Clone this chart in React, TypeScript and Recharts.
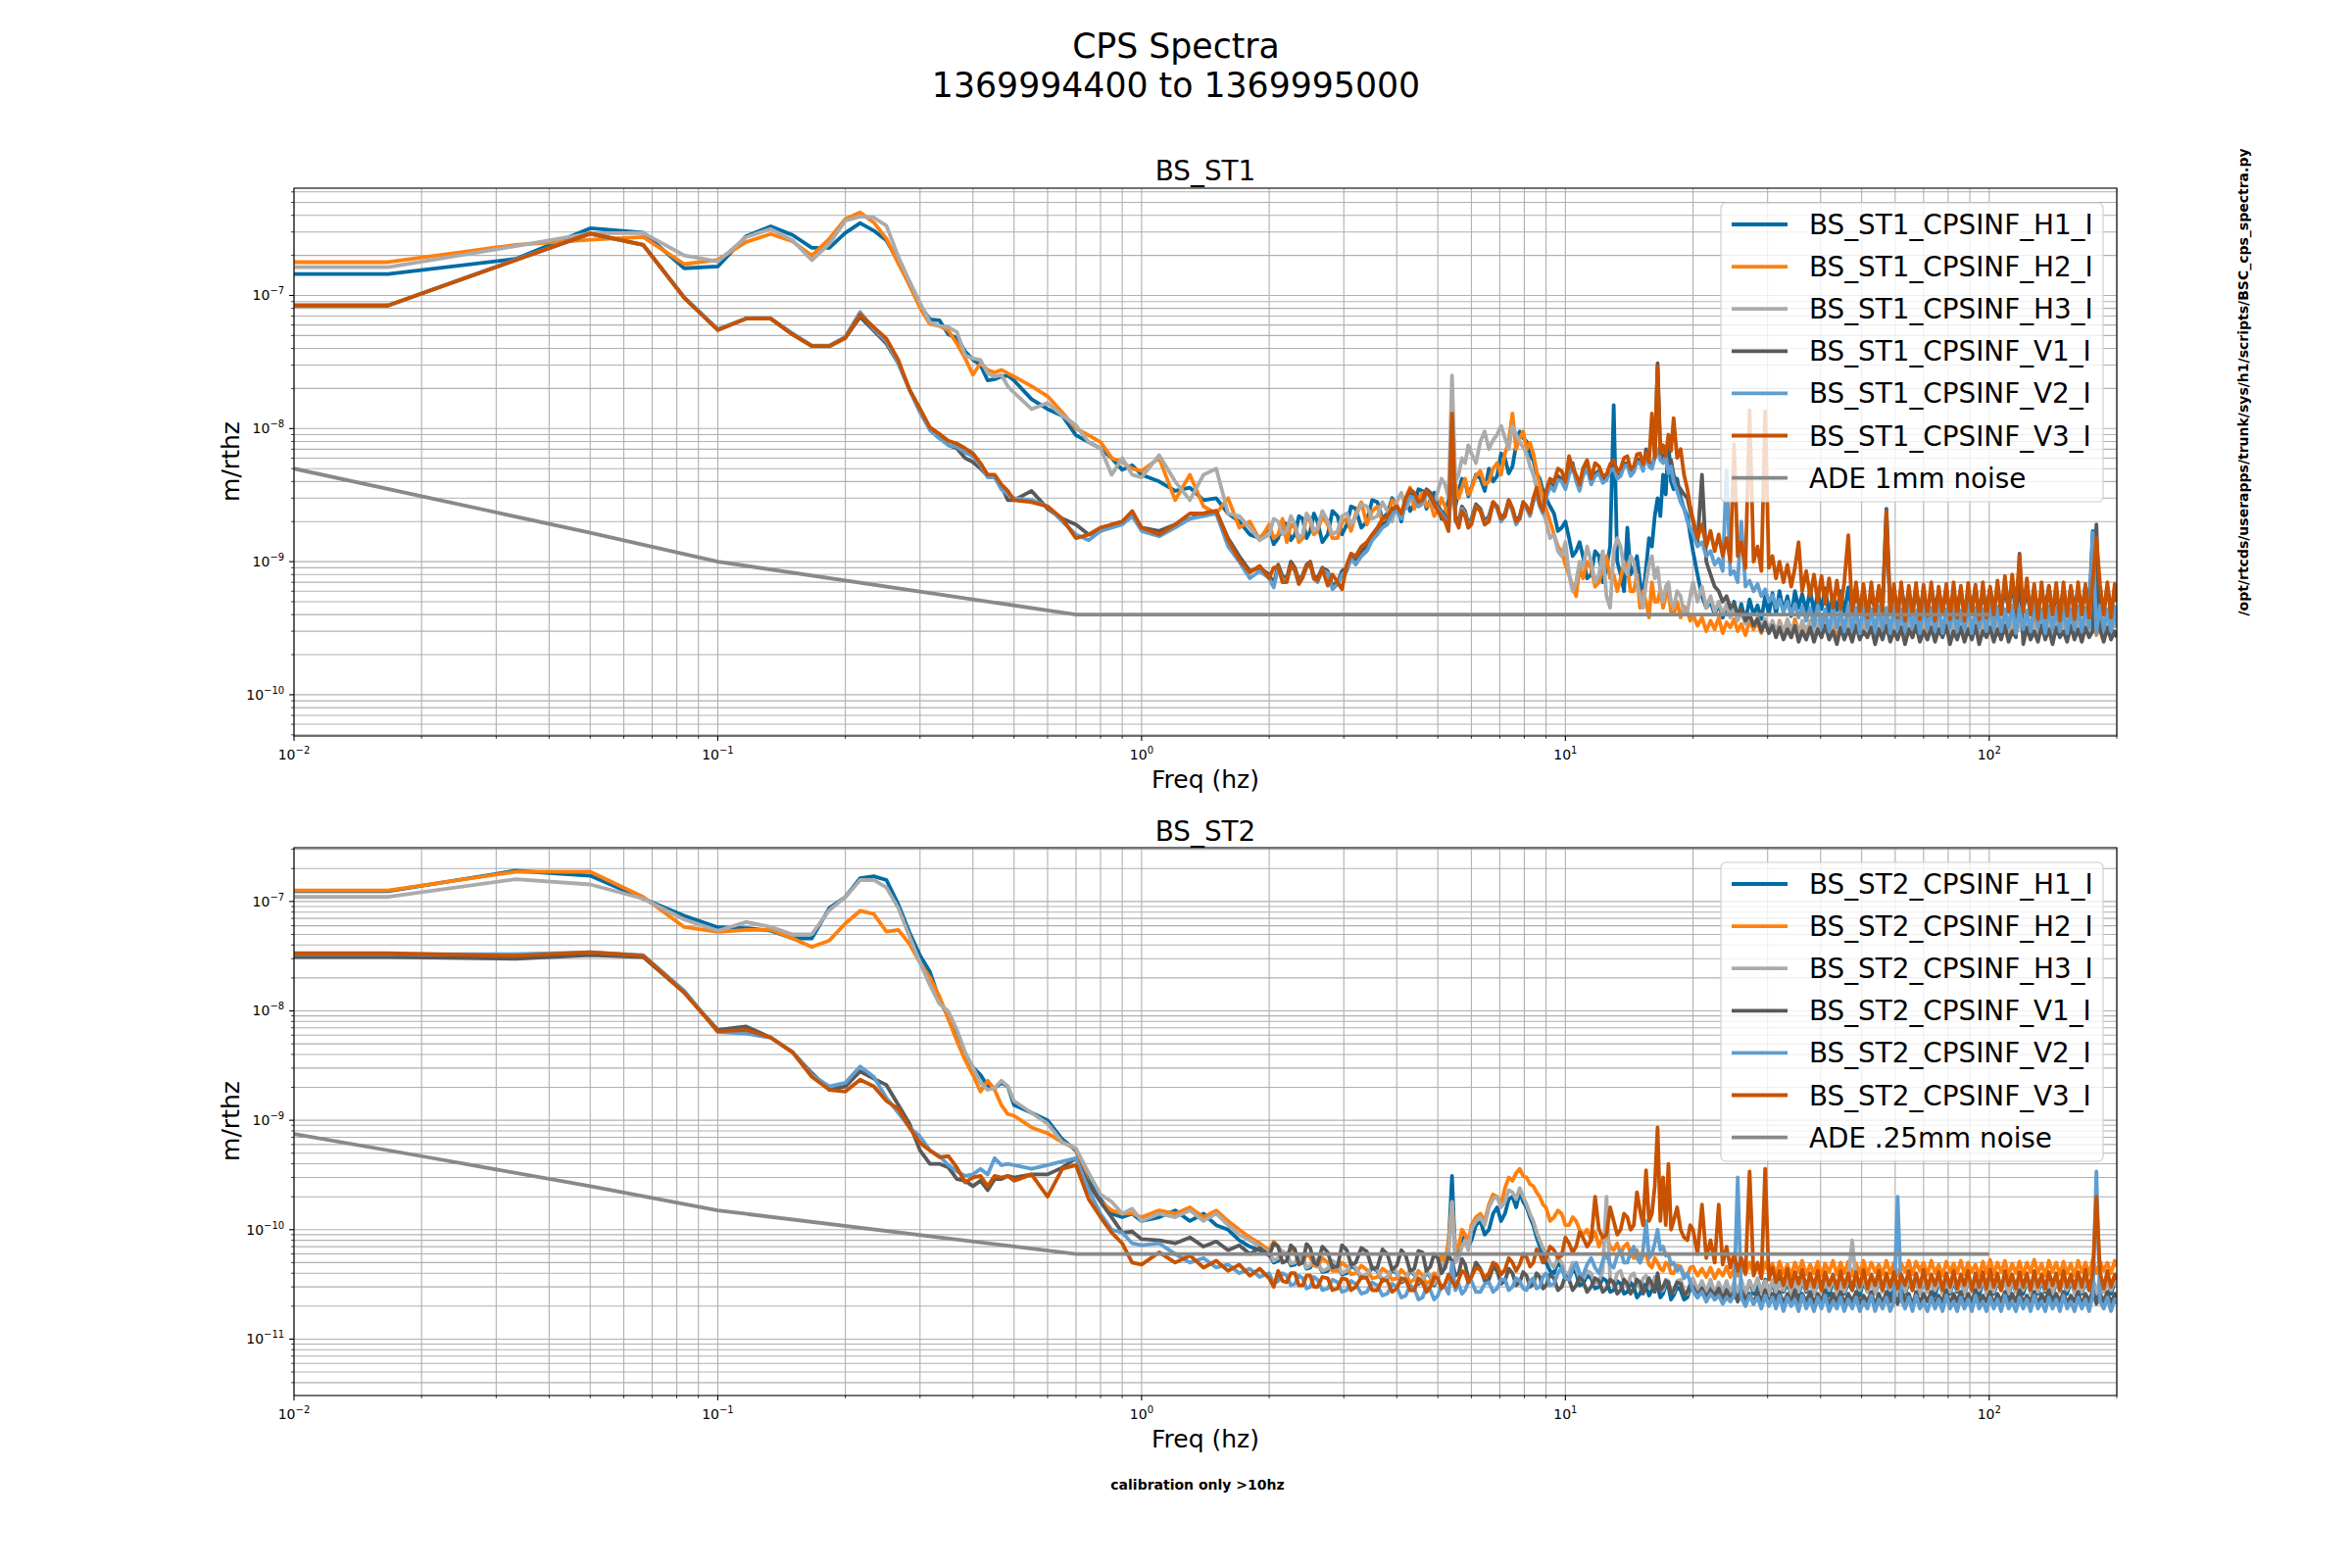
import React from 'react';
import { LineChart, Line, XAxis, YAxis, CartesianGrid } from 'recharts';

// frequency grid in Hz (shared by both stages)
const FREQ = [
  0.01, 0.01667, 0.03333, 0.05, 0.06667, 0.08333, 0.1, 0.11667, 0.13333, 0.15,
  0.16667, 0.18333, 0.2, 0.21667, 0.23333, 0.25, 0.26667, 0.28333, 0.3, 0.31667,
  0.33333, 0.35, 0.36667, 0.38333, 0.4, 0.41667, 0.43333, 0.45, 0.46667, 0.48333,
  0.5, 0.55, 0.6, 0.65, 0.7, 0.75, 0.8, 0.85, 0.9, 0.95,
  1.0, 1.1, 1.2, 1.3, 1.4, 1.5, 1.6, 1.7, 1.8, 1.9,
  2.0, 2.05, 2.1, 2.15, 2.2, 2.25, 2.3, 2.35, 2.4, 2.45,
  2.5, 2.55, 2.6, 2.67, 2.75, 2.82, 2.9, 2.97, 3.05, 3.12,
  3.2, 3.3, 3.4, 3.5, 3.6, 3.7, 3.8, 3.9, 4.0, 4.1,
  4.2, 4.3, 4.4, 4.5, 4.6, 4.7, 4.8, 4.9, 5.0, 5.1,
  5.2, 5.3, 5.4, 5.5, 5.6, 5.7, 5.8, 5.9, 6.0, 6.15,
  6.3, 6.45, 6.6, 6.75, 6.9, 7.05, 7.2, 7.35, 7.5, 7.65,
  7.8, 7.95, 8.1, 8.25, 8.4, 8.55, 8.7, 8.85, 9.0, 9.2,
  9.4, 9.6, 9.8, 10.0, 10.2, 10.4, 10.6, 10.8, 11.0, 11.25,
  11.5, 11.75, 12, 12.25, 12.5, 12.75, 13, 13.25, 13.5, 13.75,
  14, 14.25, 14.5, 14.75, 15, 15.25, 15.5, 15.75, 16, 16.25,
  16.5, 16.75, 17, 17.25, 17.5, 17.75, 18, 18.35, 18.7, 19.05,
  19.4, 19.7,
  20, 20.5, 21, 21.5, 22, 22.5, 23, 23.5, 24, 24.5,
  25, 25.5, 26, 26.6, 27.2, 27.8, 28.4, 29, 29.6, 30.2,
  30.8, 31.4, 32, 32.7, 33.4, 34.1, 34.8, 35.5, 36.2, 37,
  37.8, 38.6, 39.4, 40.2, 41, 41.9, 42.8, 43.7, 44.6, 45.5,
  46.5, 47.5, 48.5, 49.5, 50.5, 51.6, 52.7, 53.8, 54.9, 56,
  57.2, 58.4, 59.6, 60.8, 62, 63.3, 64.6, 65.9, 67.2, 68.6,
  70, 71.5, 73, 74.5, 76, 77.6, 79.2, 80.8, 82.4, 84,
  85.7, 87.4, 89.2, 91, 92.8, 94.7, 96.6, 98.5, 100.5, 102.5,
  104.6, 106.7, 108.9, 111.1, 113.3, 115.6, 117.9, 120.3, 122.7, 125.2,
  127.7, 130.3, 132.9, 135.6, 138.3, 141.1, 143.9, 146.8, 149.7, 152.7,
  155.8, 158.9, 162.1, 165.4, 168.7, 172.1, 175.5, 179, 182.6, 186.3,
  190, 193.8, 197.7, 200,
];

// BS_ST1 spectra, nm/rtHz
const st1H1 = [
  145, 145, 188, 320, 297, 160, 165, 279, 331, 285,
  228, 228, 295, 350, 307, 259, 179, 120, 83, 66,
  65, 51, 48, 38, 33, 30, 23, 23.5, 24.6, 25,
  23, 16.6, 14, 12.5, 8.9, 7.9, 7.1, 6.0, 4.9, 5.3,
  4.5, 4.0, 3.4, 3.6, 2.9, 3.0, 2.3, 2.0, 1.6, 1.5,
  1.8, 1.35, 1.5, 2.0, 1.9, 1.45, 1.6, 2.2, 2.1, 1.5,
  1.7, 2.3, 2.0, 1.4, 1.6, 2.4, 2.2, 1.6, 1.9, 2.6,
  2.5, 1.8, 2.0, 2.9, 2.8, 2.1, 2.3, 3.0, 2.6, 2.0,
  3.0, 2.4, 2.7, 3.5, 3.4, 2.5, 2.9, 3.3, 2.6, 2.1,
  2.3, 2.9, 3.5, 2.6, 3.4, 4.2, 4.0, 3.1, 3.6, 4.5,
  4.2, 3.4, 5.0, 4.0, 4.4, 6.5, 6.0, 4.6, 5.2, 7.5,
  9.5, 8.5, 8.0, 6.2, 5.8, 4.6, 4.2, 3.4, 3.0, 2.6,
  2.3, 1.7, 1.8, 2.0, 1.5, 1.1, 1.2, 1.4, 1.1, 0.75,
  0.8, 1.2, 1.1, 0.7, 0.9, 1.3, 15, 1.0, 0.8, 0.6,
  1.8, 0.8, 0.9, 1.1, 0.7, 0.55, 0.9, 1.5, 1.3, 2.2,
  3.0, 2.2, 4.5, 3.2, 8.0, 4.0, 3.5, 4.2, 3.0, 2.5,
  2.2, 1.6,
  1.2, 0.8, 0.55, 0.45, 0.5, 0.4, 0.48, 0.38, 0.45, 0.4,
  0.5, 0.38, 0.48, 0.36, 0.52, 0.4, 0.47, 0.37, 0.55, 0.4,
  0.58, 0.4, 0.6, 0.42, 0.55, 0.39, 0.6, 0.45, 0.57, 0.42,
  0.62, 0.41, 0.58, 0.44, 0.63, 0.4, 0.56, 0.43, 0.6, 0.41,
  0.64, 0.42, 0.59, 0.45, 0.62, 0.4, 0.57, 0.44, 0.63, 0.42,
  2.5, 0.43, 0.6, 0.41, 0.64, 0.44, 0.58, 0.4, 0.62, 0.43,
  0.59, 0.41, 0.65, 0.44, 0.6, 0.42, 0.63, 0.4, 0.58, 0.45,
  0.62, 0.41, 0.6, 0.43, 0.65, 0.4, 0.57, 0.44, 0.63, 0.42,
  0.66, 0.43, 0.62, 0.45, 0.68, 0.42, 0.64, 0.44, 0.6, 0.41,
  0.63, 0.42, 0.6, 0.44, 0.65, 0.4, 0.58, 0.43, 0.62, 0.41,
  0.64, 0.44, 0.6, 0.42, 0.66, 0.43, 1.7, 0.45, 0.62, 0.42,
  0.65, 0.43, 0.6, 0.55,
];
const st1H2 = [
  178, 178, 240, 262, 275, 172, 185, 252, 290, 255,
  199, 267, 375, 420, 354, 267, 174, 120, 81, 61,
  59, 54.5, 43.4, 33.7, 25.4, 30.9, 27.6, 26.4, 27.6, 26,
  24.6, 20.8, 17.5, 13.2, 10, 8.9, 7.9, 6.0, 5.6, 5.0,
  4.8, 6.0, 2.9, 4.5, 2.6, 2.3, 3.0, 1.8, 2.0, 1.45,
  1.9, 1.5, 1.6, 2.1, 1.4, 1.9, 1.8, 1.4, 1.5, 2.2,
  2.0, 1.6, 1.7, 2.2, 1.9, 1.5, 1.5, 2.0, 2.1, 1.7,
  2.3, 2.8, 1.9, 2.4, 2.6, 2.0, 2.1, 2.9, 2.7, 2.2,
  3.0, 3.6, 2.5, 2.9, 3.3, 2.6, 2.8, 2.2, 2.4, 3.0,
  2.6, 2.1, 3.2, 3.9, 3.0, 3.6, 4.2, 3.2, 3.5, 4.4,
  4.8, 3.8, 4.0, 5.0, 5.5, 4.5, 6.5, 8.0, 13, 7.0,
  8.5, 9.5, 7.0, 7.8, 6.5, 4.8, 3.8, 3.0, 2.5, 2.0,
  1.6, 1.3, 1.2, 0.95, 0.8, 0.65, 0.55, 0.9, 0.75, 1.0,
  0.9, 0.65, 0.7, 0.9, 1.1, 0.75, 0.8, 0.6, 0.75, 1.0,
  0.9, 0.6, 0.6, 0.8, 0.45, 0.6, 0.5, 0.38, 0.7, 0.5,
  0.5, 0.62, 0.45, 0.55, 0.6, 0.42, 0.4, 0.5, 0.38, 0.46,
  0.42, 0.36,
  0.4, 0.33, 0.38, 0.3, 0.36, 0.31, 0.38, 0.29, 0.35, 0.32,
  0.37, 0.3, 0.34, 0.28, 0.36, 0.31, 0.35, 0.29, 0.37, 0.3,
  0.34, 0.28, 0.36, 0.3, 0.35, 0.27, 0.37, 0.3, 0.33, 0.29,
  0.36, 0.28, 0.35, 0.3, 0.37, 0.29, 0.34, 0.27, 0.36, 0.3,
  0.35, 0.29, 0.37, 0.28, 0.34, 0.3, 0.36, 0.28, 0.35, 0.29,
  0.37, 0.3, 0.34, 0.28, 0.36, 0.29, 0.35, 0.27, 0.37, 0.3,
  0.34, 0.28, 0.36, 0.3, 0.35, 0.28, 0.37, 0.29, 0.34, 0.3,
  0.36, 0.27, 0.35, 0.29, 0.37, 0.3, 0.34, 0.28, 0.36, 0.29,
  0.35, 0.3, 0.37, 0.28, 0.34, 0.29, 0.36, 0.3, 0.35, 0.28,
  0.37, 0.29, 0.34, 0.3, 0.36, 0.28, 0.35, 0.29, 0.37, 0.3,
  0.34, 0.28, 0.36, 0.29, 0.35, 0.3, 0.37, 0.28, 0.34, 0.29,
  0.36, 0.3, 0.35, 0.32,
];
const st1H3 = [
  163, 163, 235, 293, 295, 200, 180, 274, 316, 260,
  184, 245, 364, 392, 385, 334, 195, 128, 88, 63,
  59, 57.7, 53, 35.6, 33.7, 32.7, 26, 24.6, 25.3, 20.8,
  18.6, 14, 15.6, 12.5, 10.6, 7.9, 7.1, 4.5, 6.0, 4.5,
  4.3, 6.3, 4.0, 2.9, 4.5, 5.0, 2.3, 2.2, 1.8, 1.45,
  1.6, 2.1, 2.0, 1.6, 1.7, 2.2, 1.9, 1.5, 1.6, 2.3,
  2.1, 1.7, 1.8, 2.4, 2.0, 1.6, 1.7, 2.2, 2.3, 1.9,
  2.2, 2.7, 2.6, 2.1, 2.2, 2.8, 2.4, 2.0, 2.8, 3.3,
  2.5, 2.9, 3.2, 2.6, 2.7, 3.4, 3.0, 2.6, 3.4, 4.2,
  3.8, 3.0, 25, 4.0, 4.5, 6.0, 5.5, 7.5, 6.5, 5.5,
  8.0, 9.5, 7.0, 8.2, 9.0, 10.5, 8.5, 7.0, 10.5, 9.0,
  8.0, 7.2, 6.5, 5.2, 4.5, 3.6, 3.0, 2.4, 2.0, 1.5,
  1.6, 1.2, 1.1, 1.4, 0.8, 0.6, 0.7, 1.0, 0.9, 1.3,
  1.0, 0.7, 0.8, 1.2, 0.55, 0.45, 1.2, 1.5, 1.3, 0.9,
  0.8, 1.1, 1.0, 0.7, 0.55, 0.45, 0.7, 0.95, 1.1, 0.75,
  0.9, 0.6, 0.5, 0.65, 0.7, 0.5, 0.45, 0.6, 0.55, 0.4,
  0.42, 0.55,
  0.7, 0.5, 0.65, 0.45, 0.55, 0.42, 0.5, 0.4, 0.48, 0.38,
  0.45, 0.36, 0.42, 0.34, 0.4, 0.33, 0.38, 0.32, 0.37, 0.31,
  0.36, 0.3, 0.35, 0.29, 0.37, 0.31, 0.34, 0.28, 0.36, 0.3,
  0.35, 0.29, 0.36, 0.3, 0.34, 0.28, 0.37, 0.31, 0.35, 0.29,
  0.36, 0.3, 0.34, 0.28, 0.37, 0.3, 0.35, 0.29, 0.36, 0.31,
  0.34, 0.28, 0.36, 0.3, 0.35, 0.29, 0.37, 0.3, 0.34, 0.28,
  0.36, 0.31, 0.35, 0.29, 0.37, 0.3, 0.34, 0.28, 0.36, 0.3,
  0.35, 0.29, 0.37, 0.31, 0.34, 0.28, 0.36, 0.3, 0.35, 0.29,
  0.37, 0.3, 0.34, 0.29, 0.36, 0.31, 0.35, 0.28, 0.37, 0.3,
  0.34, 0.29, 0.36, 0.3, 0.35, 0.28, 0.37, 0.31, 0.34, 0.29,
  0.36, 0.3, 0.35, 0.29, 0.37, 0.28, 0.34, 0.3, 0.36, 0.29,
  0.35, 0.3, 0.36, 0.32,
];
const st1V1 = [
  84, 84, 185, 290, 240, 96, 55, 67, 67, 51,
  41.6, 41.6, 48, 69, 54.5, 43.4, 30.9, 19.6, 14, 10,
  8.8, 7.5, 7.1, 6.0, 5.6, 5.0, 4.4, 4.4, 3.7, 2.9,
  2.9, 3.4, 2.5, 2.1, 1.9, 1.6, 1.7, 1.9, 2.0, 2.2,
  1.8, 1.7, 1.9, 2.1, 2.3, 2.4, 1.5, 1.1, 0.85, 0.9,
  0.8, 0.68, 0.95, 0.78, 0.75, 1.0, 0.9, 0.72, 0.8, 0.95,
  1.0, 0.78, 0.75, 0.9, 0.85, 0.66, 0.7, 0.85, 0.9, 1.1,
  1.0, 1.2, 1.3, 1.5, 1.7, 1.9, 2.0, 2.4, 2.5, 2.2,
  2.8, 3.3, 3.2, 2.7, 2.9, 3.5, 3.3, 2.8, 2.6, 2.4,
  2.2, 1.8, 6.0, 2.2, 2.0, 2.6, 2.4, 1.9, 2.1, 2.7,
  2.5, 2.0, 2.2, 2.8, 2.6, 2.1, 2.3, 2.9, 2.5, 2.0,
  2.2, 2.8, 2.6, 2.3, 2.9, 3.3, 2.7, 2.4, 3.2, 3.9,
  3.6, 4.4, 4.2, 3.7, 4.8, 5.5, 4.2, 3.6, 4.6, 5.3,
  4.0, 4.6, 4.8, 4.1, 4.3, 5.0, 5.2, 4.4, 4.6, 5.4,
  5.5, 4.6, 4.9, 5.9, 5.8, 5.0, 7.0, 5.5, 5.2, 6.2,
  31, 6.5, 6.0, 7.0, 5.0, 5.8, 4.5, 3.8, 3.5, 3.2,
  3.0, 2.4,
  2.0, 1.4, 4.5, 1.0, 0.8, 0.65, 0.6, 0.5, 0.55, 0.45,
  0.48, 0.4, 0.44, 0.36, 0.4, 0.33, 0.37, 0.3, 0.35, 0.29,
  0.33, 0.27, 0.32, 0.26, 0.31, 0.27, 0.33, 0.25, 0.3, 0.26,
  0.32, 0.25, 0.31, 0.27, 0.33, 0.26, 0.3, 0.24, 0.32, 0.26,
  0.31, 0.25, 0.33, 0.26, 0.3, 0.27, 0.32, 0.24, 0.31, 0.26,
  0.33, 0.25, 0.3, 0.26, 0.32, 0.24, 0.31, 0.27, 0.33, 0.25,
  0.3, 0.26, 0.32, 0.25, 0.31, 0.27, 0.33, 0.24, 0.3, 0.26,
  0.32, 0.25, 0.31, 0.26, 0.33, 0.24, 0.3, 0.27, 0.32, 0.25,
  0.31, 0.26, 0.33, 0.25, 0.3, 0.27, 1.15, 0.24, 0.32, 0.26,
  0.3, 0.25, 0.33, 0.26, 0.31, 0.24, 0.32, 0.27, 0.3, 0.25,
  0.33, 0.26, 0.31, 0.25, 0.32, 0.27, 0.3, 1.9, 0.31, 0.25,
  0.32, 0.26, 0.3, 0.27,
];
const st1V2 = [
  84, 84, 186, 292, 240, 97, 56, 67, 67, 52,
  42, 42, 49, 75, 56, 45, 31, 19.6, 13.2, 9.7,
  8.4, 7.5, 7.3, 6.6, 6.2, 5.3, 4.3, 4.3, 3.5, 3.2,
  3.0, 2.9, 2.6, 2.0, 1.6, 1.45, 1.7, 1.8, 1.9, 2.2,
  1.7, 1.55, 1.8, 2.1, 2.2, 2.3, 1.3, 1.0, 0.75, 0.85,
  0.75, 0.64, 0.9, 0.74, 0.72, 0.92, 0.85, 0.68, 0.78, 0.9,
  0.95, 0.74, 0.7, 0.86, 0.82, 0.62, 0.68, 0.8, 0.85, 1.05,
  0.95, 1.1, 1.2, 1.45, 1.6, 1.8, 1.9, 2.3, 2.4, 2.1,
  2.7, 3.1, 3.0, 2.6, 2.8, 3.3, 3.1, 2.7, 2.5, 2.3,
  2.1, 1.7, 12, 2.0, 1.9, 2.5, 2.3, 1.8, 2.0, 2.6,
  2.4, 1.9, 2.1, 2.7, 2.5, 2.0, 2.2, 2.8, 2.4, 1.9,
  2.1, 2.7, 2.5, 2.2, 2.8, 3.2, 2.6, 2.3, 3.0, 3.7,
  3.4, 4.1, 4.0, 3.5, 4.5, 5.2, 4.0, 3.4, 4.4, 5.0,
  3.8, 4.4, 4.6, 3.9, 4.1, 4.8, 5.0, 4.2, 4.4, 5.2,
  5.3, 4.4, 4.7, 5.6, 5.5, 4.8, 6.5, 5.2, 5.0, 6.0,
  7.0, 5.8, 5.5, 6.2, 4.6, 5.2, 4.0, 3.4, 2.8, 2.5,
  2.0, 1.8,
  1.6, 1.3, 1.4, 1.1, 1.2, 0.95, 1.05, 0.85, 4.9, 0.8,
  0.85, 0.7, 2.0, 0.65, 0.72, 0.6, 0.68, 0.55, 0.62, 0.5,
  0.56, 0.45, 0.52, 0.42, 0.5, 0.4, 0.48, 0.38, 0.46, 0.36,
  0.45, 0.33, 0.47, 0.32, 0.44, 0.3, 0.46, 0.32, 0.43, 0.3,
  0.47, 0.31, 0.45, 0.29, 0.48, 0.32, 0.44, 0.3, 0.46, 0.31,
  0.45, 0.29, 0.47, 0.31, 0.44, 0.3, 0.46, 0.32, 0.43, 0.29,
  0.47, 0.31, 0.45, 0.3, 0.48, 0.29, 0.44, 0.32, 0.46, 0.3,
  0.43, 0.31, 0.47, 0.29, 0.45, 0.32, 0.44, 0.3, 0.48, 0.31,
  0.46, 0.3, 0.44, 0.32, 0.47, 0.29, 0.45, 0.31, 0.43, 0.3,
  0.47, 0.32, 0.44, 0.29, 0.46, 0.31, 0.45, 0.3, 0.48, 0.29,
  0.44, 0.31, 0.46, 0.3, 0.45, 0.32, 1.65, 0.29, 0.47, 0.31,
  0.44, 0.3, 0.46, 0.33,
];
const st1V3 = [
  84, 84, 184, 293, 240, 96, 55, 67, 67, 51,
  41.6, 41.6, 48, 72, 57.7, 47.3, 32.7, 19.6, 14, 10.2,
  9.1, 8.1, 7.7, 7.1, 6.5, 5.5, 4.5, 4.5, 3.8, 3.4,
  2.9, 2.8, 2.6, 2.1, 1.5, 1.6, 1.8, 1.9, 2.0, 2.4,
  1.8, 1.6, 1.9, 2.3, 2.3, 2.4, 1.45, 1.03, 0.83, 0.93,
  0.75, 0.9, 0.92, 0.7, 0.7, 0.95, 0.88, 0.68, 0.76, 0.92,
  0.98, 0.75, 0.72, 0.88, 0.66, 0.8, 0.7, 0.62, 0.95, 1.15,
  1.1, 1.3, 1.4, 1.6, 1.8, 2.1, 2.2, 2.5, 2.6, 2.3,
  3.0, 3.5, 3.3, 2.8, 2.9, 3.4, 3.1, 2.7, 2.4, 2.2,
  2.0, 1.7, 13, 2.1, 1.8, 2.4, 2.2, 1.8, 1.9, 2.6,
  2.4, 1.9, 2.0, 2.8, 2.6, 2.1, 2.2, 2.9, 2.5, 2.0,
  2.1, 2.8, 2.6, 2.3, 3.0, 3.6, 2.7, 2.4, 3.4, 4.2,
  4.0, 5.0, 4.8, 4.0, 6.2, 5.0, 4.5, 3.8, 5.0, 5.8,
  4.2, 5.5, 5.2, 4.4, 4.5, 5.4, 5.8, 4.8, 5.0, 6.0,
  6.2, 5.0, 5.2, 6.4, 6.5, 5.4, 6.5, 5.6, 13, 6.0,
  29, 6.5, 7.5, 6.2, 9.0, 6.8, 12, 6.0, 7.0, 4.5,
  3.5, 2.6,
  2.1, 1.5, 1.9, 1.3, 1.7, 1.2, 1.6, 1.1, 1.5, 1.0,
  7.6, 1.1, 1.4, 0.9, 13.7, 1.0, 1.3, 0.85, 13.5, 0.9,
  1.1, 0.75, 1.0, 0.7, 0.95, 0.65, 0.9, 1.4, 0.6, 0.85,
  0.55, 0.8, 0.5, 0.78, 0.48, 0.75, 0.45, 0.72, 0.44, 0.7,
  1.58, 0.42, 0.7, 0.4, 0.68, 0.38, 0.7, 0.4, 0.66, 0.42,
  2.4, 0.4, 0.68, 0.38, 0.7, 0.36, 0.66, 0.4, 0.69, 0.37,
  0.67, 0.39, 0.7, 0.36, 0.65, 0.4, 0.68, 0.37, 0.7, 0.38,
  0.66, 0.36, 0.69, 0.4, 0.67, 0.37, 0.7, 0.38, 0.65, 0.4,
  0.72, 0.4, 0.78, 0.42, 0.8, 0.44, 1.1, 0.42, 0.75, 0.4,
  0.68, 0.37, 0.7, 0.38, 0.66, 0.4, 0.69, 0.36, 0.7, 0.39,
  0.66, 0.37, 0.7, 0.4, 0.68, 0.38, 0.72, 1.5, 0.67, 0.4,
  0.7, 0.38, 0.68, 0.5,
];

// BS_ST2 spectra, nm/rtHz
const st2H1 = [
  124, 124, 191, 172, 106, 74, 58, 57, 54, 46,
  46, 87, 110, 163, 170, 157, 94, 52, 32, 22.7,
  12.6, 8.8, 6.2, 3.9, 3.05, 2.6, 2.04, 1.97, 2.2, 2.04,
  1.38, 1.17, 1.0, 0.67, 0.53, 0.28, 0.19, 0.14, 0.13, 0.14,
  0.12, 0.13, 0.15, 0.12, 0.14, 0.11, 0.1, 0.08, 0.07, 0.065,
  0.06, 0.05, 0.052, 0.062, 0.058, 0.047, 0.048, 0.057, 0.055, 0.044,
  0.045, 0.054, 0.05, 0.041, 0.042, 0.05, 0.047, 0.039, 0.04, 0.047,
  0.044, 0.036, 0.038, 0.045, 0.042, 0.034, 0.036, 0.043, 0.04, 0.033,
  0.035, 0.042, 0.039, 0.032, 0.034, 0.041, 0.037, 0.031, 0.036, 0.05,
  0.045, 0.07, 0.31, 0.055, 0.06, 0.075, 0.09, 0.07, 0.08, 0.11,
  0.12, 0.09, 0.1, 0.14, 0.16, 0.12, 0.14, 0.19, 0.2, 0.16,
  0.22, 0.18, 0.16, 0.13, 0.11, 0.085, 0.07, 0.058, 0.05, 0.042,
  0.04, 0.05, 0.045, 0.036, 0.035, 0.043, 0.04, 0.031, 0.032, 0.038,
  0.036, 0.029, 0.03, 0.036, 0.034, 0.027, 0.028, 0.034, 0.032, 0.026,
  0.027, 0.033, 0.03, 0.024, 0.026, 0.032, 0.03, 0.025, 0.028, 0.033,
  0.03, 0.024, 0.026, 0.031, 0.03, 0.023, 0.025, 0.03, 0.028, 0.023,
  0.024, 0.029,
  0.028, 0.024, 0.03, 0.025, 0.029, 0.023, 0.031, 0.025, 0.03, 0.024,
  0.032, 0.026, 0.03, 0.025, 0.034, 0.026, 0.031, 0.027, 0.035, 0.026,
  0.033, 0.025, 0.036, 0.027, 0.032, 0.026, 0.035, 0.025, 0.034, 0.027,
  0.036, 0.026, 0.033, 0.028, 0.037, 0.025, 0.034, 0.027, 0.035, 0.026,
  0.033, 0.028, 0.036, 0.025, 0.034, 0.027, 0.037, 0.026, 0.033, 0.028,
  0.036, 0.025, 0.034, 0.027, 0.038, 0.026, 0.033, 0.028, 0.035, 0.026,
  0.034, 0.027, 0.037, 0.025, 0.033, 0.028, 0.036, 0.026, 0.034, 0.027,
  0.037, 0.026, 0.033, 0.028, 0.035, 0.025, 0.034, 0.027, 0.036, 0.026,
  0.033, 0.028, 0.036, 0.025, 0.034, 0.027, 0.037, 0.026, 0.033, 0.028,
  0.035, 0.026, 0.034, 0.027, 0.036, 0.025, 0.033, 0.028, 0.037, 0.026,
  0.034, 0.027, 0.035, 0.026, 0.033, 0.028, 0.036, 0.025, 0.034, 0.027,
  0.035, 0.026, 0.033, 0.03,
];
const st2H2 = [
  126, 126, 187, 187, 110, 58.4, 52.8, 55, 55, 46,
  38.4, 44, 63, 82, 77, 53, 55, 41, 27.6, 20,
  13.6, 8.4, 5.3, 3.55, 2.6, 1.83, 2.3, 1.9, 1.38, 1.14,
  1.1, 0.86, 0.76, 0.63, 0.55, 0.26, 0.18, 0.15, 0.14, 0.14,
  0.13, 0.15, 0.14, 0.16, 0.13, 0.15, 0.12, 0.1, 0.085, 0.075,
  0.065, 0.078, 0.07, 0.06, 0.058, 0.068, 0.062, 0.052, 0.05, 0.06,
  0.056, 0.047, 0.046, 0.055, 0.05, 0.042, 0.042, 0.05, 0.046, 0.039,
  0.04, 0.047, 0.043, 0.036, 0.037, 0.044, 0.041, 0.035, 0.036, 0.043,
  0.039, 0.033, 0.035, 0.042, 0.038, 0.032, 0.034, 0.04, 0.037, 0.06,
  0.05, 0.08, 0.18, 0.065, 0.07, 0.1, 0.09, 0.075, 0.11, 0.13,
  0.14, 0.12, 0.17, 0.21, 0.2, 0.17, 0.24, 0.3, 0.28, 0.33,
  0.36, 0.31, 0.3, 0.26, 0.25, 0.22, 0.2, 0.17, 0.16, 0.12,
  0.13, 0.15, 0.14, 0.11, 0.11, 0.13, 0.12, 0.1, 0.09, 0.1,
  0.08, 0.095, 0.07, 0.085, 0.09, 0.07, 0.065, 0.075, 0.06, 0.07,
  0.075, 0.06, 0.055, 0.065, 0.05, 0.058, 0.06, 0.048, 0.045, 0.055,
  0.05, 0.044, 0.042, 0.05, 0.048, 0.04, 0.04, 0.047, 0.046, 0.039,
  0.038, 0.045,
  0.046, 0.038, 0.044, 0.037, 0.045, 0.036, 0.043, 0.038, 0.046, 0.037,
  0.044, 0.038, 0.048, 0.039, 0.05, 0.04, 0.047, 0.038, 0.05, 0.041,
  0.049, 0.039, 0.051, 0.04, 0.048, 0.038, 0.05, 0.041, 0.052, 0.039,
  0.048, 0.04, 0.051, 0.038, 0.049, 0.041, 0.052, 0.039, 0.05, 0.04,
  0.051, 0.038, 0.049, 0.04, 0.052, 0.039, 0.05, 0.041, 0.048, 0.039,
  0.052, 0.04, 0.05, 0.038, 0.049, 0.041, 0.052, 0.039, 0.051, 0.042,
  0.05, 0.039, 0.052, 0.04, 0.048, 0.038, 0.051, 0.041, 0.049, 0.04,
  0.052, 0.039, 0.05, 0.041, 0.048, 0.038, 0.051, 0.04, 0.053, 0.039,
  0.05, 0.041, 0.052, 0.038, 0.049, 0.04, 0.051, 0.039, 0.05, 0.041,
  0.053, 0.04, 0.049, 0.038, 0.052, 0.041, 0.05, 0.039, 0.051, 0.04,
  0.049, 0.038, 0.052, 0.041, 0.05, 0.039, 0.053, 0.04, 0.051, 0.042,
  0.05, 0.04, 0.052, 0.046,
];
const st2H3 = [
  110, 110, 160, 143, 106, 68.5, 54, 64.8, 58.5, 50,
  50, 83.4, 110, 157, 157, 134, 87, 48, 27.6, 17.2,
  11.6, 9.9, 6.7, 4.2, 3.05, 2.2, 1.9, 1.97, 2.3, 2.04,
  1.5, 1.17, 0.93, 0.63, 0.55, 0.33, 0.21, 0.18, 0.14, 0.155,
  0.12, 0.14, 0.13, 0.15, 0.12, 0.14, 0.11, 0.09, 0.08, 0.07,
  0.062, 0.052, 0.055, 0.064, 0.06, 0.049, 0.05, 0.058, 0.054, 0.045,
  0.047, 0.055, 0.05, 0.042, 0.044, 0.052, 0.048, 0.04, 0.042, 0.05,
  0.045, 0.037, 0.039, 0.046, 0.043, 0.035, 0.037, 0.044, 0.041, 0.034,
  0.036, 0.043, 0.04, 0.033, 0.035, 0.042, 0.038, 0.032, 0.036, 0.05,
  0.045, 0.06, 0.18, 0.05, 0.055, 0.07, 0.08, 0.065, 0.1, 0.12,
  0.13, 0.11, 0.16, 0.19, 0.2, 0.16, 0.18, 0.23, 0.22, 0.19,
  0.24, 0.2, 0.17, 0.14, 0.12, 0.095, 0.08, 0.068, 0.06, 0.05,
  0.045, 0.055, 0.05, 0.04, 0.04, 0.05, 0.045, 0.036, 0.035, 0.042,
  0.04, 0.032, 0.034, 0.042, 0.2, 0.036, 0.031, 0.04, 0.042, 0.033,
  0.03, 0.038, 0.04, 0.032, 0.029, 0.036, 0.038, 0.03, 0.03, 0.037,
  0.036, 0.029, 0.028, 0.035, 0.034, 0.027, 0.027, 0.034, 0.035, 0.028,
  0.026, 0.033,
  0.036, 0.028, 0.034, 0.027, 0.035, 0.026, 0.033, 0.027, 0.034, 0.026,
  0.033, 0.027, 0.035, 0.026, 0.034, 0.028, 0.036, 0.027, 0.034, 0.026,
  0.035, 0.027, 0.033, 0.028, 0.036, 0.026, 0.034, 0.027, 0.035, 0.028,
  0.033, 0.026, 0.035, 0.027, 0.034, 0.028, 0.036, 0.026, 0.033, 0.027,
  0.035, 0.08, 0.034, 0.028, 0.036, 0.027, 0.033, 0.026, 0.035, 0.027,
  0.034, 0.028, 0.036, 0.026, 0.033, 0.027, 0.035, 0.028, 0.034, 0.026,
  0.036, 0.027, 0.033, 0.028, 0.035, 0.026, 0.034, 0.027, 0.036, 0.028,
  0.033, 0.026, 0.035, 0.027, 0.034, 0.028, 0.036, 0.026, 0.033, 0.027,
  0.035, 0.028, 0.034, 0.026, 0.036, 0.027, 0.033, 0.028, 0.035, 0.026,
  0.034, 0.027, 0.036, 0.028, 0.033, 0.026, 0.035, 0.027, 0.034, 0.028,
  0.036, 0.026, 0.033, 0.027, 0.035, 0.028, 0.034, 0.026, 0.036, 0.027,
  0.033, 0.028, 0.035, 0.03,
];
const st2V1 = [
  31, 31, 30, 32.3, 31, 14.7, 6.7, 7.2, 5.7, 4.2,
  2.7, 1.9, 2.04, 2.8, 2.4, 2.1, 1.38, 0.93, 0.53, 0.4,
  0.4, 0.37, 0.29, 0.28, 0.25, 0.28, 0.23, 0.29, 0.29, 0.31,
  0.3, 0.32, 0.32, 0.37, 0.45, 0.26, 0.18, 0.13, 0.094, 0.096,
  0.082, 0.08, 0.075, 0.085, 0.07, 0.078, 0.065, 0.072, 0.06, 0.068,
  0.058, 0.075, 0.07, 0.05, 0.052, 0.072, 0.066, 0.048, 0.05, 0.074,
  0.068, 0.05, 0.048, 0.07, 0.062, 0.045, 0.046, 0.072, 0.065, 0.048,
  0.05, 0.068, 0.063, 0.044, 0.045, 0.066, 0.06, 0.043, 0.047, 0.065,
  0.058, 0.042, 0.044, 0.064, 0.062, 0.042, 0.046, 0.06, 0.055, 0.04,
  0.045, 0.058, 0.052, 0.038, 0.04, 0.054, 0.048, 0.036, 0.037, 0.05,
  0.044, 0.034, 0.035, 0.046, 0.042, 0.032, 0.034, 0.044, 0.04, 0.031,
  0.033, 0.041, 0.038, 0.03, 0.032, 0.04, 0.037, 0.029, 0.031, 0.039,
  0.036, 0.028, 0.03, 0.038, 0.035, 0.028, 0.031, 0.037, 0.034, 0.027,
  0.03, 0.036, 0.034, 0.027, 0.029, 0.035, 0.033, 0.026, 0.028, 0.035,
  0.032, 0.026, 0.029, 0.035, 0.033, 0.026, 0.03, 0.036, 0.032, 0.027,
  0.04, 0.028, 0.03, 0.034, 0.033, 0.026, 0.028, 0.033, 0.032, 0.025,
  0.027, 0.031,
  0.03, 0.025, 0.029, 0.024, 0.028, 0.025, 0.029, 0.023, 0.028, 0.024,
  0.027, 0.022, 0.028, 0.023, 0.026, 0.021, 0.027, 0.022, 0.028, 0.021,
  0.026, 0.022, 0.027, 0.021, 0.026, 0.022, 0.028, 0.021, 0.026, 0.022,
  0.027, 0.021, 0.026, 0.022, 0.028, 0.02, 0.026, 0.022, 0.027, 0.021,
  0.026, 0.022, 0.027, 0.021, 0.025, 0.022, 0.027, 0.02, 0.026, 0.021,
  0.027, 0.022, 0.026, 0.021, 0.028, 0.022, 0.026, 0.02, 0.027, 0.021,
  0.026, 0.022, 0.027, 0.021, 0.025, 0.022, 0.028, 0.02, 0.026, 0.022,
  0.027, 0.021, 0.026, 0.022, 0.028, 0.021, 0.025, 0.022, 0.027, 0.02,
  0.026, 0.022, 0.027, 0.021, 0.026, 0.022, 0.028, 0.021, 0.025, 0.022,
  0.027, 0.02, 0.026, 0.022, 0.028, 0.021, 0.026, 0.022, 0.027, 0.021,
  0.025, 0.022, 0.027, 0.02, 0.026, 0.022, 0.028, 0.021, 0.026, 0.022,
  0.027, 0.021, 0.026, 0.024,
];
const st2V2 = [
  33, 33, 33, 34.4, 32.3, 15.3, 6.4, 6.2, 5.7, 4.2,
  2.6, 2.04, 2.2, 3.1, 2.5, 1.6, 1.17, 0.86, 0.71, 0.53,
  0.47, 0.39, 0.34, 0.31, 0.32, 0.36, 0.32, 0.45, 0.39, 0.4,
  0.39, 0.36, 0.39, 0.42, 0.45, 0.23, 0.14, 0.1, 0.094, 0.075,
  0.072, 0.075, 0.06, 0.05, 0.055, 0.045, 0.048, 0.04, 0.044, 0.037,
  0.04, 0.032, 0.034, 0.04, 0.038, 0.031, 0.032, 0.038, 0.036, 0.029,
  0.03, 0.037, 0.035, 0.028, 0.029, 0.035, 0.033, 0.027, 0.028, 0.034,
  0.032, 0.026, 0.027, 0.033, 0.031, 0.025, 0.026, 0.032, 0.03, 0.024,
  0.025, 0.031, 0.029, 0.023, 0.024, 0.03, 0.028, 0.023, 0.025, 0.031,
  0.03, 0.026, 0.05, 0.028, 0.032, 0.026, 0.028, 0.033, 0.034, 0.027,
  0.027, 0.032, 0.033, 0.027, 0.029, 0.035, 0.035, 0.028, 0.03, 0.036,
  0.034, 0.029, 0.028, 0.034, 0.036, 0.029, 0.03, 0.037, 0.04, 0.031,
  0.032, 0.04, 0.045, 0.036, 0.035, 0.044, 0.05, 0.04, 0.038, 0.048,
  0.055, 0.045, 0.04, 0.052, 0.06, 0.048, 0.045, 0.058, 0.065, 0.05,
  0.05, 0.062, 0.07, 0.055, 0.05, 0.065, 0.12, 0.055, 0.06, 0.075,
  0.1, 0.065, 0.07, 0.058, 0.06, 0.048, 0.05, 0.042, 0.045, 0.036,
  0.04, 0.033,
  0.028, 0.024, 0.027, 0.022, 0.026, 0.023, 0.025, 0.021, 0.024, 0.022,
  0.025, 0.3, 0.024, 0.02, 0.025, 0.021, 0.024, 0.019, 0.025, 0.02,
  0.024, 0.019, 0.025, 0.018, 0.024, 0.02, 0.023, 0.018, 0.025, 0.019,
  0.023, 0.018, 0.024, 0.019, 0.025, 0.018, 0.022, 0.019, 0.024, 0.018,
  0.023, 0.019, 0.024, 0.018, 0.022, 0.019, 0.025, 0.018, 0.023, 0.019,
  0.024, 0.018, 0.022, 0.2, 0.023, 0.019, 0.024, 0.018, 0.025, 0.019,
  0.022, 0.018, 0.024, 0.019, 0.023, 0.018, 0.025, 0.019, 0.022, 0.018,
  0.024, 0.019, 0.023, 0.018, 0.025, 0.019, 0.022, 0.018, 0.024, 0.019,
  0.023, 0.018, 0.025, 0.019, 0.022, 0.018, 0.024, 0.019, 0.023, 0.018,
  0.025, 0.019, 0.022, 0.018, 0.024, 0.019, 0.023, 0.018, 0.025, 0.019,
  0.022, 0.018, 0.024, 0.019, 0.023, 0.018, 0.025, 0.34, 0.022, 0.019,
  0.024, 0.018, 0.023, 0.021,
];
const st2V3 = [
  33.6, 33.6, 31.8, 34.4, 31.8, 14.7, 6.5, 6.7, 5.7, 4.2,
  2.5, 1.9, 1.83, 2.35, 2.04, 1.5, 1.27, 0.86, 0.62, 0.53,
  0.46, 0.47, 0.37, 0.27, 0.3, 0.31, 0.25, 0.31, 0.3, 0.31,
  0.28, 0.32, 0.2, 0.36, 0.39, 0.19, 0.13, 0.094, 0.075, 0.05,
  0.048, 0.062, 0.05, 0.058, 0.045, 0.052, 0.042, 0.048, 0.038, 0.044,
  0.036, 0.03, 0.042, 0.034, 0.033, 0.04, 0.04, 0.031, 0.031, 0.038,
  0.038, 0.03, 0.03, 0.037, 0.036, 0.028, 0.029, 0.036, 0.035, 0.028,
  0.03, 0.037, 0.036, 0.028, 0.028, 0.035, 0.034, 0.027, 0.029, 0.036,
  0.035, 0.028, 0.028, 0.036, 0.033, 0.027, 0.03, 0.037, 0.036, 0.029,
  0.032, 0.039, 0.034, 0.03, 0.035, 0.042, 0.04, 0.033, 0.037, 0.045,
  0.043, 0.036, 0.04, 0.05, 0.047, 0.039, 0.043, 0.055, 0.05, 0.042,
  0.048, 0.06, 0.056, 0.046, 0.05, 0.066, 0.06, 0.05, 0.055, 0.07,
  0.065, 0.055, 0.058, 0.085, 0.075, 0.062, 0.07, 0.095, 0.085, 0.07,
  0.08, 0.2, 0.1, 0.085, 0.09, 0.16, 0.12, 0.09, 0.1, 0.14,
  0.13, 0.1, 0.11, 0.22, 0.15, 0.11, 0.35, 0.12, 0.14, 0.25,
  0.86, 0.12, 0.3, 0.11, 0.4, 0.1, 0.12, 0.16, 0.1, 0.085,
  0.08, 0.11,
  0.1, 0.06, 0.17, 0.055, 0.08, 0.05, 0.17, 0.048, 0.07, 0.045,
  0.06, 0.042, 0.055, 0.04, 0.34, 0.038, 0.05, 0.036, 0.36, 0.035,
  0.045, 0.033, 0.042, 0.031, 0.044, 0.03, 0.041, 0.032, 0.043, 0.029,
  0.04, 0.03, 0.042, 0.028, 0.041, 0.031, 0.039, 0.029, 0.042, 0.03,
  0.04, 0.028, 0.041, 0.03, 0.043, 0.029, 0.039, 0.031, 0.042, 0.028,
  0.04, 0.03, 0.041, 0.029, 0.039, 0.031, 0.042, 0.028, 0.04, 0.03,
  0.043, 0.029, 0.039, 0.031, 0.041, 0.028, 0.04, 0.03, 0.042, 0.029,
  0.039, 0.031, 0.042, 0.028, 0.04, 0.03, 0.041, 0.029, 0.043, 0.03,
  0.04, 0.028, 0.042, 0.031, 0.039, 0.029, 0.041, 0.03, 0.04, 0.028,
  0.042, 0.03, 0.039, 0.029, 0.041, 0.031, 0.04, 0.028, 0.042, 0.03,
  0.039, 0.029, 0.041, 0.03, 0.043, 0.028, 0.04, 0.2, 0.041, 0.029,
  0.042, 0.03, 0.039, 0.035,
];

// ADE sensor noise curves, nm/rtHz
const ADE_FREQ = [0.01, 0.02, 0.05, 0.1, 0.7, 100];
const ADE_1MM = [5.0, 3.1, 1.65, 1.0, 0.4, 0.4];
const ADE_025MM = [0.75, 0.47, 0.25, 0.15, 0.06, 0.06];

const CHANNELS = ['H1', 'H2', 'H3', 'V1', 'V2', 'V3'];
const COLORS = ['#006BA4', '#FF800E', '#ABABAB', '#595959', '#5F9ED1', '#C85200'];
const ADE_COLOR = '#898989';
const FONT = '"DejaVu Sans", Verdana, sans-serif';
const LINE_W = 3.8;

const toRows = (series: number[][]) =>
  FREQ.map((f, i) => {
    const row: Record<string, number | null> = { f };
    series.forEach((s, j) => {
      row[CHANNELS[j]] = s[i] != null ? s[i] * 1e-9 : null;
    });
    return row;
  });

const adeRows = (vals: number[]) => ADE_FREQ.map((f, i) => ({ f, ade: vals[i] * 1e-9 }));

const logTicks = (lo: number, hi: number, min: number, max: number) => {
  const out: number[] = [];
  for (let e = lo; e <= hi; e++) {
    for (let m = 1; m <= 9; m++) {
      const v = Number(`${m}e${e}`);
      if (v >= min * 0.999 && v <= max * 1.001) out.push(v);
    }
  }
  return out;
};

const isMajor = (v: number) => Math.abs(Math.log10(v) - Math.round(Math.log10(v))) < 1e-6;
const expText = (v: number) => {
  const e = Math.round(Math.log10(v));
  return e < 0 ? `\u2212${-e}` : `${e}`;
};

const X_DOMAIN = [0.01, 200];
const X_TICKS = logTicks(-2, 2, 0.01, 200);
const TOP_DOMAIN = [4.9e-11, 6.4e-7];
const TOP_TICKS = logTicks(-11, -7, 4.9e-11, 6.4e-7);
const BOT_DOMAIN = [3.05e-12, 3.1e-7];
const BOT_TICKS = logTicks(-12, -7, 3.05e-12, 3.1e-7);

function XTick(props: any) {
  const { x, y, payload } = props;
  const major = isMajor(payload.value);
  return (
    <g>
      <line x1={x} x2={x} y1={y} y2={y + (major ? 4.9 : 2.8)} stroke="#000" strokeWidth={major ? 1.1 : 0.8} />
      {major && (
        <text x={x} y={y + 24} textAnchor="middle" fontSize={14} fontFamily={FONT} fill="#000">
          10<tspan dy={-6} fontSize={10}>{expText(payload.value)}</tspan>
        </text>
      )}
    </g>
  );
}

function YTick(props: any) {
  const { x, y, payload } = props;
  const major = isMajor(payload.value);
  return (
    <g>
      <line x1={x - (major ? 4.9 : 2.8)} x2={x} y1={y} y2={y} stroke="#000" strokeWidth={major ? 1.1 : 0.8} />
      {major && (
        <text x={x - 9.8} y={y + 5} textAnchor="end" fontSize={14} fontFamily={FONT} fill="#000">
          10<tspan dy={-6} fontSize={10}>{expText(payload.value)}</tspan>
        </text>
      )}
    </g>
  );
}

const PLOT_L = 300;
const PLOT_R = 2160;

function Panel({ top, bottom, rows, ade, yDomain, yTicks }: any) {
  return (
    <div style={{ position: 'absolute', left: 0, top: 0 }}>
      <LineChart
        width={2400}
        height={1600}
        data={rows}
        margin={{ top, right: 2400 - PLOT_R, bottom: 1600 - bottom - 50, left: 0 }}
      >
        <CartesianGrid stroke="#b0b0b0" strokeWidth={1.1} horizontalValues={yTicks} verticalValues={X_TICKS} />
        <XAxis
          dataKey="f"
          type="number"
          scale="log"
          domain={X_DOMAIN}
          allowDataOverflow
          ticks={X_TICKS}
          interval={0}
          tick={<XTick />}
          tickLine={false}
          tickSize={0}
          tickMargin={0}
          height={50}
          axisLine={false}
        />
        <YAxis
          type="number"
          scale="log"
          domain={yDomain}
          allowDataOverflow
          ticks={yTicks}
          interval={0}
          tick={<YTick />}
          tickLine={false}
          tickSize={0}
          tickMargin={0}
          width={PLOT_L}
          axisLine={false}
        />
        {CHANNELS.map((c, i) => (
          <Line
            key={c}
            type="linear"
            dataKey={c}
            stroke={COLORS[i]}
            strokeWidth={LINE_W}
            strokeLinejoin="round"
            dot={false}
            isAnimationActive={false}
          />
        ))}
        <Line
          type="linear"
          data={ade}
          dataKey="ade"
          stroke={ADE_COLOR}
          strokeWidth={LINE_W}
          dot={false}
          isAnimationActive={false}
        />
      </LineChart>
    </div>
  );
}

function LegendBox({ x, y, labels }: { x: number; y: number; labels: string[] }) {
  const colors = [...COLORS, ADE_COLOR];
  return (
    <g>
      <rect x={x} y={y} width={390} height={305} rx={5} fill="#fff" fillOpacity={0.8} stroke="#cccccc" strokeWidth={1.1} />
      {labels.map((l, i) => {
        const cy = y + 22 + i * 43.1;
        return (
          <g key={l}>
            <line x1={x + 11} x2={x + 68} y1={cy} y2={cy} stroke={colors[i]} strokeWidth={LINE_W} />
            <text x={x + 90} y={cy + 10} fontSize={27.8} fontFamily={FONT} fill="#000">
              {l}
            </text>
          </g>
        );
      })}
    </g>
  );
}

const ST1_LABELS = [...CHANNELS.map((c) => `BS_ST1_CPSINF_${c}_I`), 'ADE 1mm noise'];
const ST2_LABELS = [...CHANNELS.map((c) => `BS_ST2_CPSINF_${c}_I`), 'ADE .25mm noise'];

export default function App() {
  const rows1 = toRows([st1H1, st1H2, st1H3, st1V1, st1V2, st1V3]);
  const rows2 = toRows([st2H1, st2H2, st2H3, st2V1, st2V2, st2V3]);
  return (
    <div style={{ position: 'absolute', left: 0, top: 0, width: 2400, height: 1600, background: '#fff', fontFamily: FONT }}>
      <Panel top={192} bottom={751} rows={rows1} ade={adeRows(ADE_1MM)} yDomain={TOP_DOMAIN} yTicks={TOP_TICKS} />
      <Panel top={865} bottom={1424} rows={rows2} ade={adeRows(ADE_025MM)} yDomain={BOT_DOMAIN} yTicks={BOT_TICKS} />
      <svg width={2400} height={1600} style={{ position: 'absolute', left: 0, top: 0, pointerEvents: 'none' }} fontFamily={FONT}>
        <rect x={PLOT_L} y={192} width={PLOT_R - PLOT_L} height={559} fill="none" stroke="#000" strokeWidth={1.1} />
        <rect x={PLOT_L} y={865} width={PLOT_R - PLOT_L} height={559} fill="none" stroke="#000" strokeWidth={1.1} />
        <text x={1200} y={59} textAnchor="middle" fontSize={34.7}>CPS Spectra</text>
        <text x={1200} y={99} textAnchor="middle" fontSize={34.7}>1369994400 to 1369995000</text>
        <text x={1230} y={184} textAnchor="middle" fontSize={27.8}>BS_ST1</text>
        <text x={1230} y={858} textAnchor="middle" fontSize={27.8}>BS_ST2</text>
        <text x={1230} y={804} textAnchor="middle" fontSize={25}>Freq (hz)</text>
        <text x={1230} y={1477} textAnchor="middle" fontSize={25}>Freq (hz)</text>
        <text x={244} y={471} textAnchor="middle" fontSize={25} transform="rotate(-90 244 471)">m/rthz</text>
        <text x={244} y={1144} textAnchor="middle" fontSize={25} transform="rotate(-90 244 1144)">m/rthz</text>
        <text x={1222} y={1520} textAnchor="middle" fontSize={14} fontWeight="bold">calibration only &gt;10hz</text>
        <text x={2294} y={390} textAnchor="middle" fontSize={14} fontWeight="bold" transform="rotate(-90 2294 390)">
          /opt/rtcds/userapps/trunk/sys/h1/scripts/BSC_cps_spectra.py
        </text>
        <LegendBox x={1756} y={207} labels={ST1_LABELS} />
        <LegendBox x={1756} y={880} labels={ST2_LABELS} />
      </svg>
    </div>
  );
}
